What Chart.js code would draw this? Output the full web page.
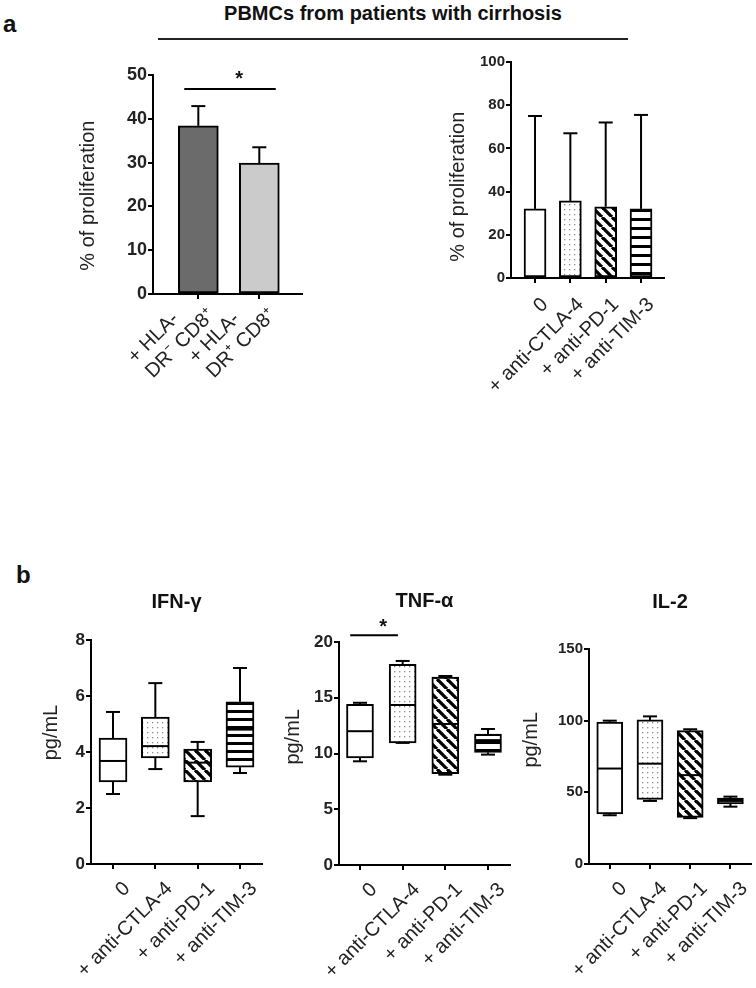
<!DOCTYPE html>
<html><head><meta charset="utf-8">
<script src="https://cdn.jsdelivr.net/npm/chart.js@4/dist/chart.umd.min.js"></script>
<style>
body{margin:0;background:#fff;}
#page{position:relative;width:756px;height:988px;overflow:hidden;background:#fff;font-family:"Liberation Sans",Arial,sans-serif;color:#111;}
#page canvas{position:absolute;}
.lbl{position:absolute;font-weight:bold;white-space:nowrap;}
</style></head><body>
<div id="page">
  <div class="lbl" style="left:3px;top:12px;font-size:24px;line-height:24px;">a</div>
  <div class="lbl" style="left:193px;width:400px;text-align:center;top:3px;font-size:20px;line-height:20px;">PBMCs from patients with cirrhosis</div>
  <div style="position:absolute;left:158px;top:38px;width:470px;height:2px;background:#222;"></div>
  <div class="lbl" style="left:16px;top:563px;font-size:24px;line-height:24px;">b</div>
</div>
<script>
// ---------- data ----------
const prolifCats = [["+ HLA-     ", "DR\u207B CD8\u207A"], ["+ HLA-     ", "DR\u207A CD8\u207A"]];
const prolifMean = [38.4, 29.9];
const prolifSem  = [4.5, 3.6];
const prolifTicks = [0, 10, 20, 30, 40, 50];

const treatCats = ["0", "+ anti-CTLA-4", "+ anti-PD-1", "+ anti-TIM-3"];
const treatMean = [32, 35.7, 33, 32];
const treatSd   = [43, 31.3, 39, 43.5];
const treatTicks = [0, 20, 40, 60, 80, 100];

const ifnMin = [2.5, 3.39, 1.71, 3.25];
const ifnQ1  = [2.93, 3.79, 2.93, 3.46];
const ifnMed = [3.68, 4.21, 3.62, 4.8];
const ifnQ3  = [4.5, 5.25, 4.1, 5.79];
const ifnMax = [5.43, 6.46, 4.36, 7.0];
const ifnTicks = [0, 2, 4, 6, 8];

const tnfMin = [9.3, 10.95, 8.1, 9.9];
const tnfQ1  = [9.6, 10.95, 8.2, 10.1];
const tnfMed = [12.0, 14.35, 12.65, 11.2];
const tnfQ3  = [14.4, 18.0, 16.86, 11.75];
const tnfMax = [14.55, 18.3, 16.95, 12.2];
const tnfTicks = [0, 5, 10, 15, 20];

const il2Min = [34, 44, 32, 40];
const il2Q1  = [35, 45, 32.5, 42];
const il2Med = [66.6, 70, 62, 44];
const il2Q3  = [99, 100.5, 93, 46];
const il2Max = [100, 103, 94, 47];
const il2Ticks = [0, 50, 100, 150];

// ---------- fills ----------
function makePattern(kind, period) {
  const c = document.createElement('canvas');
  let g;
  if (kind === 'dots') {
    c.width = c.height = 5; g = c.getContext('2d');
    g.fillStyle = '#fff'; g.fillRect(0, 0, 5, 5);
    g.fillStyle = '#8c8c8c'; g.fillRect(2, 2, 1.3, 1.3);
  } else if (kind === 'diag') {
    const s = period; c.width = c.height = s; g = c.getContext('2d');
    g.fillStyle = '#fff'; g.fillRect(0, 0, s, s);
    g.strokeStyle = '#000'; g.lineWidth = 3.3;
    for (const x0 of [-s, 0, s]) { g.beginPath(); g.moveTo(x0, 0); g.lineTo(x0 + s, s); g.stroke(); }
  } else {
    c.width = 4; c.height = period; g = c.getContext('2d');
    g.fillStyle = '#fff'; g.fillRect(0, 0, 4, period);
    g.fillStyle = '#000'; g.fillRect(0, 0, 4, 3);
  }
  return g.createPattern(c, 'repeat');
}
const fillsA = ['#fff', makePattern('dots'), makePattern('diag', 10), makePattern('h', 9)];
const fillsB = ['#fff', makePattern('dots'), makePattern('diag', 10), makePattern('h', 8.3)];

// ---------- overlay (error bars, whiskers, medians, significance) ----------
function overlay(spec) {
  return {
    id: 'overlay',
    afterDatasetsDraw(chart) {
      const ctx = chart.ctx, xs = chart.scales.x, ys = chart.scales.y;
      const meta = chart.getDatasetMeta(0);
      const cap = 7;
      ctx.save();
      ctx.strokeStyle = '#000'; ctx.lineWidth = 2;
      const seg = (x1, y1, x2, y2) => { ctx.beginPath(); ctx.moveTo(x1, y1); ctx.lineTo(x2, y2); ctx.stroke(); };
      if (spec.err) {
        spec.mean.forEach((m, i) => {
          const px = meta.data[i].x;
          const y0 = ys.getPixelForValue(m), y1 = ys.getPixelForValue(m + spec.err[i]);
          seg(px, y0, px, y1); seg(px - cap, y1, px + cap, y1);
        });
      }
      if (spec.box) {
        const b = spec.box;
        b.min.forEach((mn, i) => {
          const el = meta.data[i], px = el.x, hw = el.width / 2;
          const yMin = ys.getPixelForValue(mn), yQ1 = ys.getPixelForValue(b.q1[i]);
          const yQ3 = ys.getPixelForValue(b.q3[i]), yMax = ys.getPixelForValue(b.max[i]);
          const yMed = ys.getPixelForValue(b.med[i]);
          seg(px, yQ1, px, yMin); seg(px - cap, yMin, px + cap, yMin);
          seg(px, yQ3, px, yMax); seg(px - cap, yMax, px + cap, yMax);
          seg(px - hw + 1, yMed, px + hw - 1, yMed);
        });
      }
      if (spec.sig) {
        const s = spec.sig;
        const y = ys.getPixelForValue(s.y);
        seg(xs.getPixelForValue(s.x0), y, xs.getPixelForValue(s.x1), y);
        ctx.fillStyle = '#111';
        ctx.font = 'bold 20px "Liberation Sans", Arial, sans-serif';
        ctx.textAlign = 'center'; ctx.textBaseline = 'alphabetic';
        ctx.fillText('*', xs.getPixelForValue(s.sx), ys.getPixelForValue(s.sy) + 11);
      }
      ctx.restore();
    }
  };
}

// ---------- chart builder ----------
const page = document.getElementById('page');
const FONT = '"Liberation Sans", Arial, sans-serif';
function makeChart(o) {
  const cv = document.createElement('canvas');
  cv.width = o.w; cv.height = o.h;
  cv.style.left = o.left + 'px'; cv.style.top = o.top + 'px';
  cv.style.width = o.w + 'px'; cv.style.height = o.h + 'px';
  page.appendChild(cv);
  const axisGrid = { display: true, drawOnChartArea: false, drawTicks: true, tickLength: 5, lineWidth: 2, color: '#000', offset: false };
  const axisBorder = { display: true, width: 2, color: '#000' };
  return new Chart(cv, {
    type: 'bar',
    data: { datasets: [{ data: o.data, backgroundColor: o.fills, borderColor: '#000', borderWidth: 2, borderSkipped: false, barThickness: o.barW }] },
    options: {
      responsive: false, animation: false, devicePixelRatio: 1,
      layout: { padding: { top: o.padTop, right: o.padRight, left: 0, bottom: 0 } },
      plugins: {
        legend: { display: false }, tooltip: { enabled: false },
        title: o.title ? { display: true, text: o.title, fullSize: false, color: '#111', font: { family: FONT, size: 20, weight: 'bold' }, padding: { top: 0, bottom: o.titleGap } } : { display: false }
      },
      scales: {
        x: {
          type: 'linear', min: o.xmin, max: o.xmax, offset: false,
          afterBuildTicks: s => { s.ticks = o.cats.map((c, i) => ({ value: i + 1 })); },
          afterFit: s => { s.height = o.xH; },
          grid: axisGrid, border: axisBorder,
          ticks: { autoSkip: false, maxRotation: 45, minRotation: 45, padding: o.xPad, labelOffset: o.xOff, color: '#222',
                   font: { family: FONT, size: 20, lineHeight: o.xLH || 1.2 },
                   callback: v => o.cats[Math.round(v) - 1] }
        },
        y: {
          type: 'linear', min: o.yTicks[0], max: o.yTicks[o.yTicks.length - 1],
          afterBuildTicks: s => { s.ticks = o.yTicks.map(v => ({ value: v })); },
          afterFit: s => { s.width = o.yW; },
          grid: axisGrid, border: axisBorder,
          title: { display: true, text: o.ytitle, color: '#222', font: { family: FONT, size: 20 }, padding: { top: 4, bottom: 4 } },
          ticks: { padding: 1, color: '#222', font: { family: FONT, size: o.tickSize, weight: 'bold' } }
        }
      }
    },
    plugins: [overlay(o.extra)]
  });
}

// ---------- panel a ----------
makeChart({
  left: 72, top: 60, w: 250, h: 350, padTop: 15, padRight: 20, yW: 81, xH: 116,
  xmin: 0.257, xmax: 2.70, barW: 40, tickSize: 18, xPad: -11, xOff: -3, xLH: 1.15,
  cats: prolifCats, yTicks: prolifTicks, ytitle: '% of proliferation    ',
  data: prolifMean.map((v, i) => ({ x: i + 1, y: v })),
  fills: ['#6b6b6b', '#cbcbcb'],
  extra: { err: prolifSem, mean: prolifMean, sig: { x0: 0.77, x1: 2.27, y: 46.8, sx: 1.67, sy: 50.2 } }
});
makeChart({
  left: 442, top: 47, w: 242, h: 351, padTop: 15, padRight: 20, yW: 69, xH: 120,
  xmin: 0.32, xmax: 4.65, barW: 22, tickSize: 15, xPad: 10, xOff: 10,
  cats: treatCats, yTicks: treatTicks, ytitle: '% of proliferation      ',
  data: treatMean.map((v, i) => ({ x: i + 1, y: v })),
  fills: fillsA,
  extra: { err: treatSd, mean: treatMean }
});

// ---------- panel b ----------
makeChart({
  left: 35, top: 590, w: 242, h: 398, padTop: 0, padRight: 15, yW: 56, xH: 124,
  title: 'IFN-\u03B3', titleGap: 26,
  xmin: 0.48, xmax: 4.52, barW: 28, tickSize: 17, xPad: 8, xOff: 14,
  cats: treatCats, yTicks: ifnTicks, ytitle: '       pg/mL',
  data: ifnQ1.map((v, i) => ({ x: i + 1, y: [v, ifnQ3[i]] })),
  fills: fillsB,
  extra: { box: { min: ifnMin, q1: ifnQ1, med: ifnMed, q3: ifnQ3, max: ifnMax } }
});
makeChart({
  left: 277, top: 589, w: 248, h: 399, padTop: 0, padRight: 15, yW: 62, xH: 123,
  title: 'TNF-\u03B1', titleGap: 29,
  xmin: 0.508, xmax: 4.516, barW: 27, tickSize: 17, xPad: 8, xOff: 14,
  cats: treatCats, yTicks: tnfTicks, ytitle: '      pg/mL',
  data: tnfQ1.map((v, i) => ({ x: i + 1, y: [v, tnfQ3[i]] })),
  fills: fillsB,
  extra: { box: { min: tnfMin, q1: tnfQ1, med: tnfMed, q3: tnfQ3, max: tnfMax }, sig: { x0: 0.77, x1: 1.89, y: 20.6, sx: 1.54, sy: 21.8 } }
});
makeChart({
  left: 515, top: 590, w: 241, h: 398, padTop: 0, padRight: 3, yW: 74, xH: 124,
  title: 'IL-2', titleGap: 35,
  xmin: 0.484, xmax: 4.516, barW: 26, tickSize: 15, xPad: 8, xOff: 14,
  cats: treatCats, yTicks: il2Ticks, ytitle: '      pg/mL',
  data: il2Q1.map((v, i) => ({ x: i + 1, y: [v, il2Q3[i]] })),
  fills: fillsB,
  extra: { box: { min: il2Min, q1: il2Q1, med: il2Med, q3: il2Q3, max: il2Max } }
});
</script>
</body></html>
